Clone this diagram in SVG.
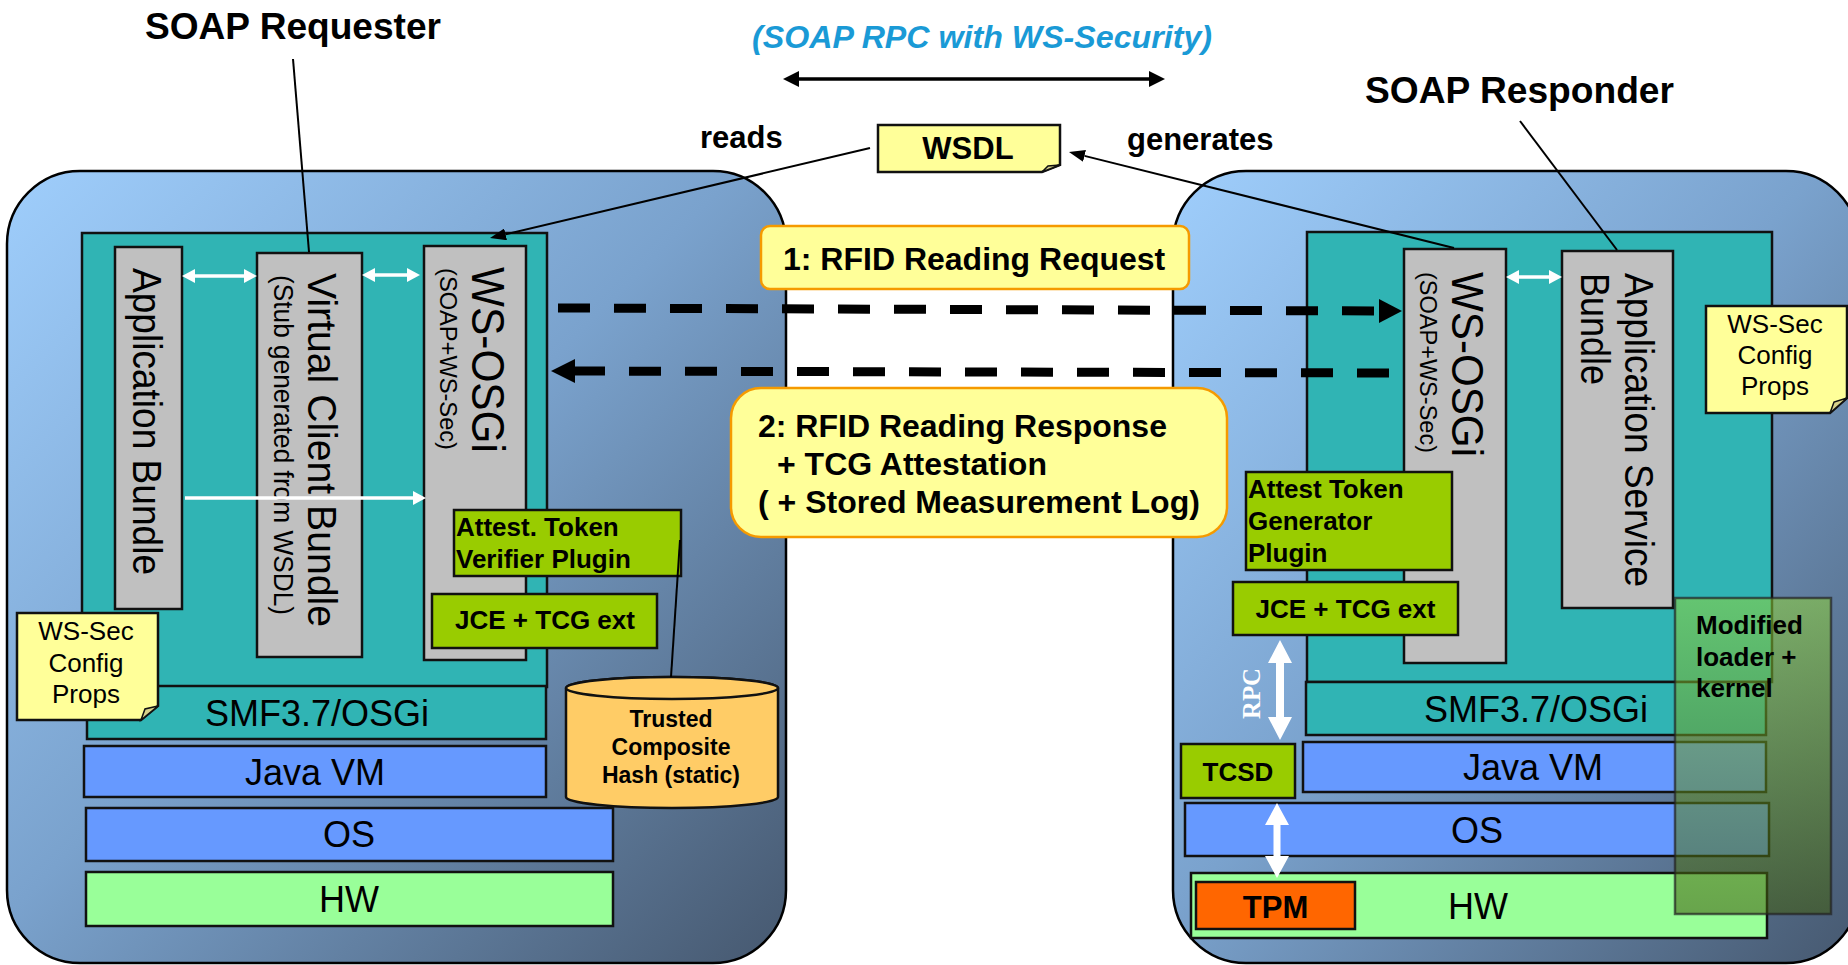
<svg xmlns="http://www.w3.org/2000/svg" width="1848" height="965" viewBox="0 0 1848 965">
  <defs>
    <linearGradient id="bg" x1="0" y1="0" x2="1" y2="1">
      <stop offset="0" stop-color="#9fcefc"/>
      <stop offset="0.47" stop-color="#7aa2cd"/>
      <stop offset="1" stop-color="#46586f"/>
    </linearGradient>
    <linearGradient id="mod" x1="0" y1="0" x2="0" y2="1">
      <stop offset="0" stop-color="#8fd23a"/>
      <stop offset="1" stop-color="#3f5a0c"/>
    </linearGradient>
    <marker id="ah" viewBox="0 0 16 12" refX="0" refY="6" markerWidth="16" markerHeight="12" markerUnits="userSpaceOnUse" orient="auto-start-reverse">
      <path d="M0,0 L16,6 L0,12 Z" fill="#000"/>
    </marker>
    <marker id="ahb" viewBox="0 0 16 16" refX="0" refY="8" markerWidth="16" markerHeight="16" markerUnits="userSpaceOnUse" orient="auto-start-reverse">
      <path d="M0,0 L16,8 L0,16 Z" fill="#000"/>
    </marker>
    <marker id="wa" viewBox="0 0 13 14" refX="0" refY="7" markerWidth="13" markerHeight="14" markerUnits="userSpaceOnUse" orient="auto-start-reverse">
      <path d="M0,0 L13,7 L0,14 Z" fill="#fff"/>
    </marker>
    <style>
      .host { fill: url(#bg); stroke: #000; stroke-width: 2.5; }
      .panel { fill: #30b4b4; stroke: #111; stroke-width: 2.5; }
      .bar { fill: #c0c0c0; stroke: #111; stroke-width: 2.5; }
      .plug { fill: #99cc00; stroke: #111; stroke-width: 2.5; }
      .jvm { fill: #6699ff; stroke: #111; stroke-width: 2.5; }
      .hw { fill: #99ff99; stroke: #111; stroke-width: 2.5; }
      .tpm { fill: #ff6600; stroke: #111; stroke-width: 2.5; }
      .note { fill: #ffff99; stroke: #111; stroke-width: 2.5; }
      .fold { fill: #d8d28a; stroke: #111; stroke-width: 1.5; }
      .msg { fill: #ffff99; stroke: #f59a00; stroke-width: 2.5; }
      .cyl { fill: #ffcc66; stroke: #111; stroke-width: 2.5; }
      .mod { fill: url(#mod); fill-opacity: 0.55; stroke: #222; stroke-opacity: 0.7; stroke-width: 2.5; }
      text { font-family: "Liberation Sans", Arial, sans-serif; fill: #000; }
      .b { font-weight: bold; }
      .lay { font-size: 36px; text-anchor: middle; }
      .vt { font-size: 40px; }
      .sm { font-size: 26px; }
      .mid { text-anchor: middle; }
      .link { stroke: #000; stroke-width: 2; fill: none; }
      .dash { stroke: #000; stroke-width: 9; fill: none; stroke-dasharray: 32 24; }
      .wline { stroke: #fff; stroke-width: 3.5; fill: none; }
    </style>
  </defs>

  <!-- host frames -->
  <g id="requester-host">
    <rect class="host" x="7" y="171" width="779" height="792" rx="73" ry="73"/>
  </g>
  <g id="responder-host">
    <rect class="host" x="1173" y="171" width="686" height="792" rx="73" ry="73"/>
  </g>

  <!-- requester stack -->
  <g id="req-osgi-panel">
    <rect class="panel" x="82" y="233" width="465" height="454"/>
  </g>
  <g id="req-app-bundle">
    <rect class="bar" x="115" y="247" width="67" height="362"/>
    <text class="vt" transform="translate(133,268) rotate(90)" textLength="307" lengthAdjust="spacingAndGlyphs">Application Bundle</text>
  </g>
  <g id="req-virtual-client">
    <rect class="bar" x="257" y="253" width="105" height="404"/>
    <text class="vt" transform="translate(308,273) rotate(90)" textLength="354" lengthAdjust="spacingAndGlyphs">Virtual Client Bundle</text>
    <text style="font-size:27px" transform="translate(274,275) rotate(90)" textLength="340" lengthAdjust="spacingAndGlyphs">(Stub generated from WSDL)</text>
  </g>
  <g id="req-ws-osgi">
    <rect class="bar" x="424" y="246" width="102" height="414"/>
    <text style="font-size:46px" transform="translate(472,267) rotate(90)" textLength="186" lengthAdjust="spacingAndGlyphs">WS-OSGi</text>
    <text style="font-size:24px" transform="translate(440,268) rotate(90)" textLength="182" lengthAdjust="spacingAndGlyphs">(SOAP+WS-Sec)</text>
  </g>
  <g id="req-verifier">
    <rect class="plug" x="454" y="510" width="227" height="66"/>
    <text class="b sm" x="456" y="536">Attest. Token</text>
    <text class="b sm" x="456" y="568">Verifier Plugin</text>
  </g>
  <g id="req-jce">
    <rect class="plug" x="432" y="594" width="225" height="54"/>
    <text class="b sm mid" x="545" y="629">JCE + TCG ext</text>
  </g>
  <g id="req-smf">
    <rect class="panel" x="87" y="686" width="459" height="53"/>
    <text class="lay" x="317" y="726">SMF3.7/OSGi</text>
  </g>
  <g id="req-wssec-props">
    <path class="note" d="M17,613 H158 V706 L141,720 H17 Z"/>
    <path class="fold" d="M158,706 L141,720 L145,709 Z"/>
    <text class="sm mid" x="86" y="640">WS-Sec</text>
    <text class="sm mid" x="86" y="672">Config</text>
    <text class="sm mid" x="86" y="703">Props</text>
  </g>
  <g id="req-jvm">
    <rect class="jvm" x="84" y="746" width="462" height="51"/>
    <text class="lay" x="315" y="785">Java VM</text>
  </g>
  <g id="req-os">
    <rect class="jvm" x="86" y="808" width="527" height="53"/>
    <text class="lay" x="349" y="847">OS</text>
  </g>
  <g id="req-hw">
    <rect class="hw" x="86" y="872" width="527" height="54"/>
    <text class="lay" x="349" y="912">HW</text>
  </g>
  <g id="trusted-hash">
    <path class="cyl" d="M566,688 L566,797 A106,11 0 0 0 778,797 L778,688 A106,11 0 0 0 566,688 Z"/>
    <ellipse class="cyl" cx="672" cy="688" rx="106" ry="11"/>
    <text class="b mid" style="font-size:23px" x="671" y="727">Trusted</text>
    <text class="b mid" style="font-size:23px" x="671" y="755">Composite</text>
    <text class="b mid" style="font-size:23px" x="671" y="783">Hash (static)</text>
  </g>

  <!-- responder stack -->
  <g id="resp-osgi-panel">
    <rect class="panel" x="1307" y="232" width="465" height="450"/>
  </g>
  <g id="resp-ws-osgi">
    <rect class="bar" x="1404" y="249" width="102" height="414"/>
    <text style="font-size:45px" transform="translate(1452,272) rotate(90)" textLength="185" lengthAdjust="spacingAndGlyphs">WS-OSGi</text>
    <text style="font-size:24px" transform="translate(1420,272) rotate(90)" textLength="181" lengthAdjust="spacingAndGlyphs">(SOAP+WS-Sec)</text>
  </g>
  <g id="resp-app-service">
    <rect class="bar" x="1562" y="251" width="111" height="357"/>
    <text class="vt" transform="translate(1625,273) rotate(90)" textLength="314" lengthAdjust="spacingAndGlyphs">Application Service</text>
    <text class="vt" transform="translate(1581,273) rotate(90)" textLength="112" lengthAdjust="spacingAndGlyphs">Bundle</text>
  </g>
  <g id="resp-wssec-props">
    <path class="note" d="M1706,306 H1847 V398 L1830,413 H1706 Z"/>
    <path class="fold" d="M1847,398 L1830,413 L1834,402 Z"/>
    <text class="sm mid" x="1775" y="333">WS-Sec</text>
    <text class="sm mid" x="1775" y="364">Config</text>
    <text class="sm mid" x="1775" y="395">Props</text>
  </g>
  <g id="resp-generator">
    <rect class="plug" x="1246" y="472" width="206" height="98"/>
    <text class="b sm" x="1248" y="498">Attest Token</text>
    <text class="b sm" x="1248" y="530">Generator</text>
    <text class="b sm" x="1248" y="562">Plugin</text>
  </g>
  <g id="resp-jce">
    <rect class="plug" x="1233" y="582" width="225" height="53"/>
    <text class="b sm mid" x="1345.5" y="618">JCE + TCG ext</text>
  </g>
  <g id="resp-smf">
    <rect class="panel" x="1306" y="682" width="460" height="53"/>
    <text class="lay" x="1536" y="722">SMF3.7/OSGi</text>
  </g>
  <g id="resp-jvm">
    <rect class="jvm" x="1303" y="742" width="463" height="50"/>
    <text class="lay" x="1533" y="780">Java VM</text>
  </g>
  <g id="resp-tcsd">
    <rect class="plug" x="1181" y="744" width="114" height="54"/>
    <text class="b sm mid" x="1238" y="781">TCSD</text>
  </g>
  <g id="resp-os">
    <rect class="jvm" x="1185" y="803" width="584" height="53"/>
    <text class="lay" x="1477" y="843">OS</text>
  </g>
  <g id="resp-hw">
    <rect class="hw" x="1191" y="873" width="576" height="65"/>
    <text class="lay" x="1478" y="919">HW</text>
  </g>
  <g id="resp-tpm">
    <rect class="tpm" x="1196" y="882" width="159" height="47"/>
    <text class="b mid" style="font-size:31px" x="1275.5" y="918">TPM</text>
  </g>
  <g id="resp-modified-loader">
    <rect class="mod" x="1675" y="598" width="156" height="316"/>
    <text class="b sm" x="1696" y="634">Modified</text>
    <text class="b sm" x="1696" y="666">loader +</text>
    <text class="b sm" x="1696" y="697">kernel</text>
  </g>

  <!-- shared artefacts and messages -->
  <g id="wsdl">
    <path class="note" d="M878,125 H1060 V165 L1042,172 H878 Z"/>
    <path class="fold" d="M1060,165 L1042,172 L1048,166 Z"/>
    <text class="b mid" style="font-size:31px" x="968" y="159">WSDL</text>
  </g>
  <g id="msg-request">
    <rect class="msg" x="761" y="226" width="428" height="63" rx="9" ry="9"/>
    <text class="b" style="font-size:32px" x="783" y="270">1: RFID Reading Request</text>
  </g>
  <g id="msg-response">
    <rect class="msg" x="731" y="388" width="496" height="149" rx="30" ry="30"/>
    <text class="b" style="font-size:32px" x="758" y="437">2: RFID Reading Response</text>
    <text class="b" style="font-size:32px" x="777" y="475">+ TCG Attestation</text>
    <text class="b" style="font-size:32px" x="758" y="513">( + Stored Measurement Log)</text>
  </g>

  <!-- labels -->
  <g id="labels">
    <text class="b" style="font-size:36px" x="145" y="39" textLength="296" lengthAdjust="spacingAndGlyphs">SOAP Requester</text>
    <text class="b" style="font-size:36px" x="1365" y="103" textLength="309" lengthAdjust="spacingAndGlyphs">SOAP Responder</text>
    <text class="b" style="font-size:32px; font-style:italic; fill:#1a9ad6" x="752" y="48" textLength="460" lengthAdjust="spacingAndGlyphs">(SOAP RPC with WS-Security)</text>
    <text class="b" style="font-size:31px" x="700" y="148">reads</text>
    <text class="b" style="font-size:31px" x="1127" y="150">generates</text>
  </g>

  <!-- connectors -->
  <g id="connectors">
    <line class="link" x1="293" y1="59" x2="309" y2="252"/>
    <line class="link" x1="1520" y1="121" x2="1617" y2="250"/>
    <line class="link" x1="870" y1="148" x2="505.6" y2="234.3" marker-end="url(#ah)"/>
    <line class="link" x1="1454" y1="248" x2="1084.5" y2="155.9" marker-end="url(#ah)"/>
    <line class="link" x1="680" y1="540" x2="671" y2="677"/>
    <line stroke="#000" stroke-width="3.5" x1="799" y1="79" x2="1149" y2="79" marker-start="url(#ahb)" marker-end="url(#ahb)"/>
    <line class="wline" x1="195" y1="276" x2="244" y2="276" marker-start="url(#wa)" marker-end="url(#wa)"/>
    <line class="wline" x1="375" y1="275" x2="407" y2="275" marker-start="url(#wa)" marker-end="url(#wa)"/>
    <line class="wline" x1="1519" y1="277" x2="1549" y2="277" marker-start="url(#wa)" marker-end="url(#wa)"/>
    <line class="wline" x1="185" y1="498" x2="413" y2="498" marker-end="url(#wa)"/>
    <path class="dash" d="M558,308 L1379,311"/>
    <polygon points="1379,299 1402,311 1379,323" fill="#000"/>
    <path class="dash" d="M1389,373 L575,371"/>
    <polygon points="575,359 551,371 575,383" fill="#000"/>
    <polygon fill="#fff" points="1280,640 1292,663 1284,663 1284,717 1292,717 1280,740 1268,717 1276,717 1276,663 1268,663"/>
    <polygon fill="#fff" points="1277,803 1289,825 1280.5,825 1280.5,856 1289,856 1277,878 1265,856 1273.5,856 1273.5,825 1265,825"/>
    <text class="b" style="font-family:'Liberation Serif', 'Times New Roman', serif; font-size:25px; fill:#fff" transform="translate(1260,719) rotate(-90)" textLength="51" lengthAdjust="spacingAndGlyphs">RPC</text>
  </g>
</svg>
